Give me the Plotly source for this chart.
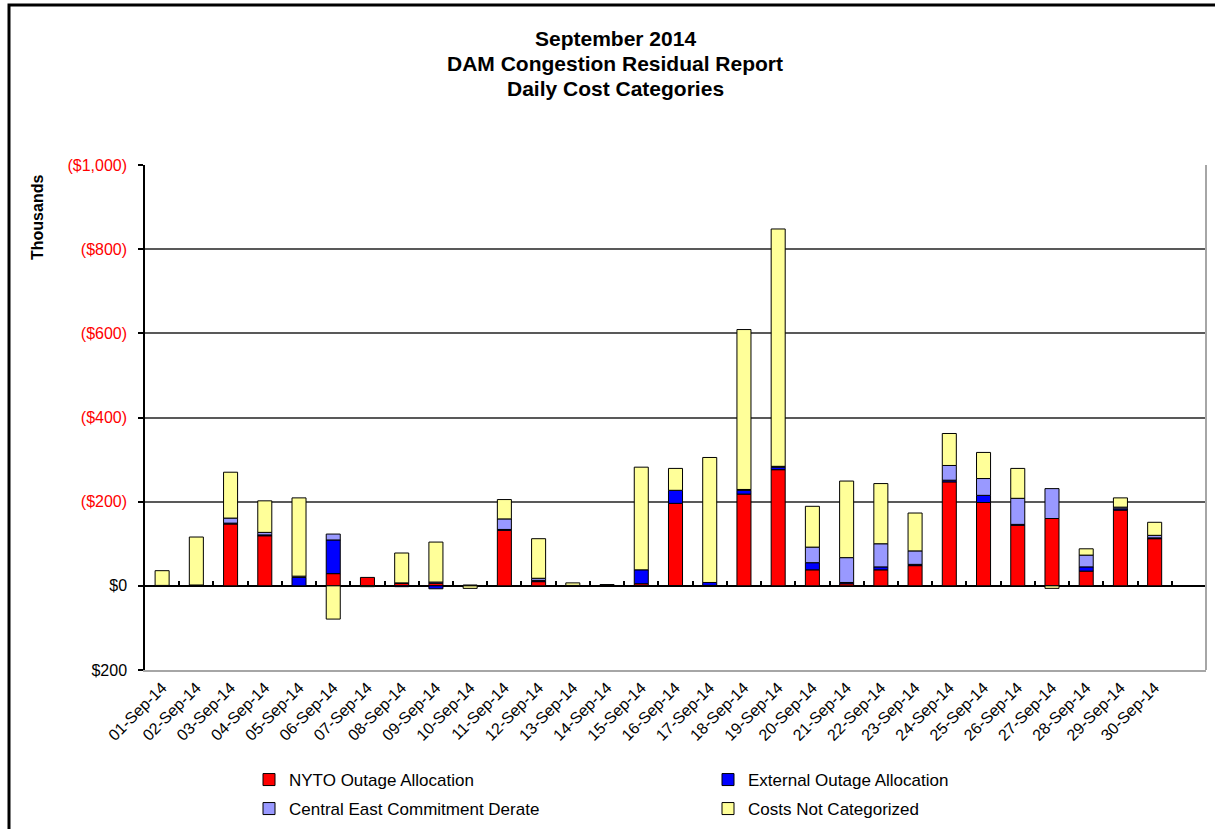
import plotly.graph_objects as go

days = ["01-Sep-14", "02-Sep-14", "03-Sep-14", "04-Sep-14", "05-Sep-14", "06-Sep-14",
        "07-Sep-14", "08-Sep-14", "09-Sep-14", "10-Sep-14", "11-Sep-14", "12-Sep-14",
        "13-Sep-14", "14-Sep-14", "15-Sep-14", "16-Sep-14", "17-Sep-14", "18-Sep-14",
        "19-Sep-14", "20-Sep-14", "21-Sep-14", "22-Sep-14", "23-Sep-14", "24-Sep-14",
        "25-Sep-14", "26-Sep-14", "27-Sep-14", "28-Sep-14", "29-Sep-14", "30-Sep-14"]

# values in thousands of dollars (negative = cost, drawn upward on reversed axis)
nyto_outage = [-1, -2, -147, -119, 0, -29, -20, -6, -6, -2, -132, -10, 0, -1, -5,
               -196, -1, -218, -276, -38, -5, -38, -48, -247, -198, -144, -160, -35, -180, -112]
external_outage = [0, 0, -2, -2, -20, -80, 0, 2, 7, 0, -2, -3, 0, -1, -33,
                   -31, -7, -9, -6, -17, -3, -7, -3, -4, -17, -2, 0, -10, -3, -2]
central_east = [0, 0, -12, -6, -3, -14, 0, -1, -3, 0, -25, -5, -1, 0, 0,
                0, 0, -2, -2, -37, -59, -55, -32, -35, -40, -62, -71, -28, -4, -6]
not_categorized = [-35, -114, -109, -75, -186, 79, 2, -71, -95, 6, -46, -94, -6, -1, -244,
                   -52, -297, -380, -564, -97, -182, -143, -90, -76, -62, -71, 6, -15, -22, -31]

series_names = ["NYTO Outage Allocation", "External Outage Allocation",
                "Central East Commitment Derate", "Costs Not Categorized"]
series_values = [nyto_outage, external_outage, central_east, not_categorized]
series_colors = ["#FF0000", "#0000FF", "#9999FF", "#FFFF99"]
legend_ids = ["legend", "legend2", "legend3", "legend4"]

y_tickvals = [-1000, -800, -600, -400, -200, 0, 200]
y_ticktext = ["($1,000)", "($800)", "($600)", "($400)", "($200)", "$0", "$200"]

FONT = "Liberation Sans, Arial, sans-serif"

fig = go.Figure()
for name, vals, col, lg in zip(series_names, series_values, series_colors, legend_ids):
    fig.add_trace(go.Bar(x=days, y=vals, name=name, legend=lg,
                         marker=dict(color=col, line=dict(color="black", width=1))))

# helper trace so the zero-line tick axis exists
fig.add_trace(go.Scatter(x=[None], y=[None], xaxis="x2", showlegend=False, hoverinfo="skip"))

colored = []
for v, t in zip(y_tickvals, y_ticktext):
    colored.append(f"<span style='color:#FF0000'>{t}</span>" if v < 0 else t)

W, H = 1215, 829
L, R, T, B = 145, 9, 165, 159
pw, ph = W - L - R, H - T - B

def px(xp):
    return (xp - L) / pw

def py(yp):
    return (H - B - yp) / ph

zero_pos = py(586)

fig.update_layout(
    width=W, height=H,
    margin=dict(l=L, r=R, t=T, b=B, pad=0, autoexpand=False),
    paper_bgcolor="white", plot_bgcolor="white",
    barmode="relative", bargap=0.59,
    font=dict(family=FONT, size=16, color="black"),
    showlegend=True,
    xaxis=dict(type="category", categoryorder="array", categoryarray=days,
               range=[-0.5, 30.5], tickangle=-45, tickfont=dict(size=16),
               showgrid=False, zeroline=False, showline=True,
               linecolor="#A6A6A6", linewidth=2, ticks=""),
    xaxis2=dict(type="linear", overlaying="x", anchor="free", position=zero_pos,
                range=[-0.5, 30.5], tick0=0.5, dtick=1, ticks="inside", ticklen=5,
                tickwidth=1.5, tickcolor="black", showticklabels=False,
                showgrid=False, zeroline=False, showline=False),
    yaxis=dict(range=[200, -1000], tickvals=y_tickvals, ticktext=colored,
               tickfont=dict(size=16), showgrid=True, gridcolor="#595959", gridwidth=1.5,
               zeroline=True, zerolinecolor="black", zerolinewidth=1.5,
               showline=True, linecolor="black", linewidth=1.5,
               ticks="outside", ticklen=5, tickcolor="black", tickwidth=1.5,
               ticklabelstandoff=8),
)

leg_common = dict(orientation="h", xanchor="left", yanchor="middle",
                  font=dict(family=FONT, size=17, color="black"),
                  bgcolor="rgba(0,0,0,0)", borderwidth=0)
fig.update_layout(
    legend=dict(x=px(249), y=py(780), **leg_common),
    legend2=dict(x=px(708), y=py(780), **leg_common),
    legend3=dict(x=px(249), y=py(809), **leg_common),
    legend4=dict(x=px(708), y=py(809), **leg_common),
)

title_lines = ["September 2014", "DAM Congestion Residual Report", "Daily Cost Categories"]
title_y = [38, 63, 88]
for txt, yy in zip(title_lines, title_y):
    fig.add_annotation(text=f"<b>{txt}</b>", xref="paper", yref="paper",
                       x=px(615), y=py(yy), xanchor="center", yanchor="middle",
                       showarrow=False, font=dict(family=FONT, size=21, color="black"))

fig.add_annotation(text="<b>Thousands</b>", xref="paper", yref="paper",
                   x=px(37), y=py(218), xanchor="center", yanchor="middle",
                   textangle=-90, showarrow=False,
                   font=dict(family=FONT, size=16, color="black"))

# plot area right border and outer chart border
fig.add_shape(type="line", xref="paper", yref="paper", x0=1, x1=1, y0=0, y1=1,
              line=dict(color="#A6A6A6", width=2))
fig.add_shape(type="rect", xref="paper", yref="paper",
              x0=px(9), x1=px(1240), y0=py(900), y1=py(5),
              line=dict(color="black", width=3), fillcolor="rgba(0,0,0,0)", layer="above")

fig.write_html("out.html", config={"displayModeBar": False},
               post_script="document.body.style.margin='0';document.body.style.overflow='hidden';")
